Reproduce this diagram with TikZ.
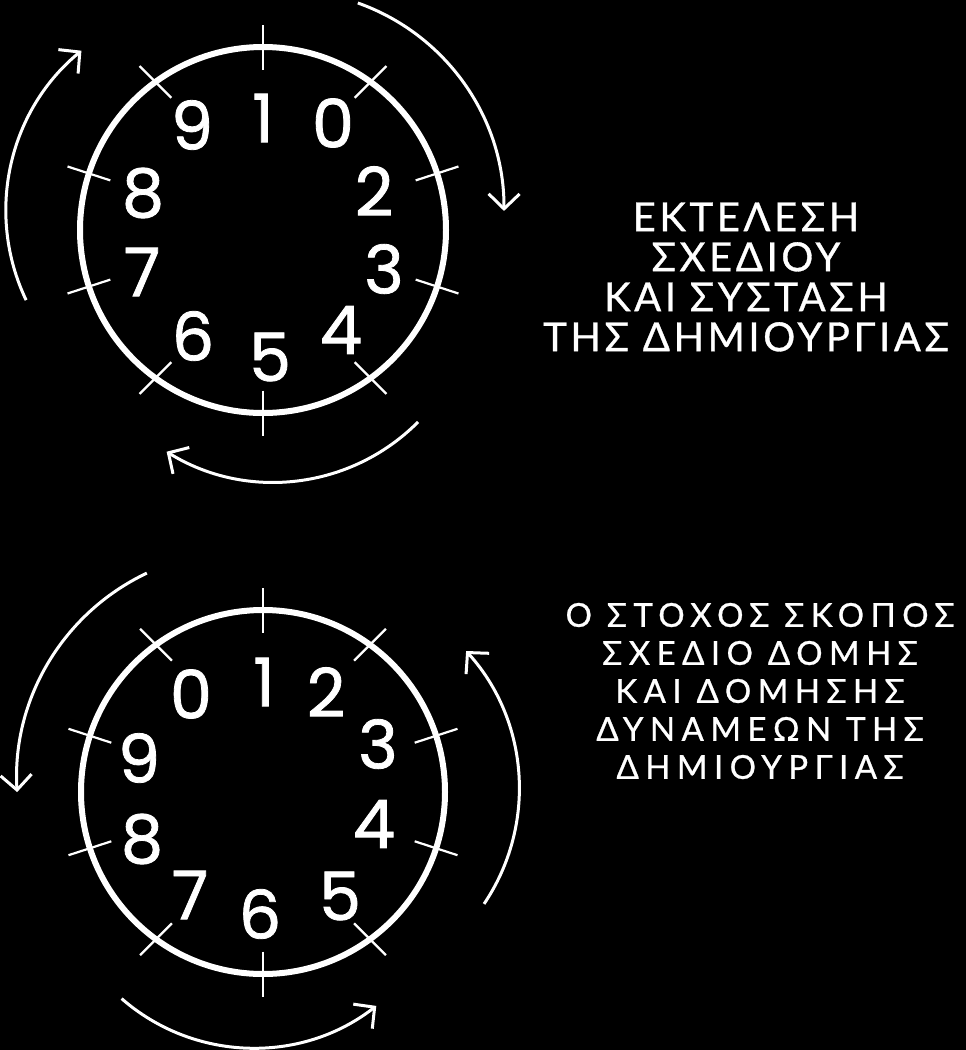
\documentclass[tikz,border=0pt]{standalone}
\usepackage{fontspec}
\usetikzlibrary{arrows.meta,calc}
\newfontfamily\digitfont[FakeBold=1.2]{Poppins}
\newfontfamily\greekA[LetterSpace=9,FakeBold=0.8]{Lato}
\newfontfamily\greekB[LetterSpace=19.5,FakeBold=0.8]{Lato}
\tikzset{
  dial/.style={draw=white, line width=6pt},
  tickmark/.style={draw=white, line width=2.2pt},
  arr/.style={draw=white, line width=3pt, -{Straight Barb[length=15pt,width=31pt]}},
  dig/.style={text=white, inner sep=0pt, font=\digitfont\fontsize{67}{67}\selectfont},
  blockA/.style={text=white, align=center, inner sep=0pt, font=\greekA\fontsize{40}{40}\selectfont},
  blockB/.style={text=white, align=center, inner sep=0pt, font=\greekB\fontsize{33}{38}\selectfont},
}
\begin{document}
\begin{tikzpicture}[x=1pt,y=-1pt]
\fill[black] (0,0) rectangle (966,1050);
\useasboundingbox (0,0) rectangle (966,1050);

% centres of the two dials
\coordinate (ct) at (263,230);
\coordinate (cb) at (263,792);

% dials
\draw[dial] (ct) circle[radius=183];
\draw[dial] (cb) circle[radius=182];

% ticks
\foreach \c/\r in {ct/183, cb/182}{
  \foreach \a/\o in {-90/-90, -54/-45, -18/-18, 18/18, 54/45, 90/90, 126/135, 162/162, 198/198, 234/225}{
    \draw[tickmark] ($(\c)+(\a:\r)+(\o:-22.5)$) -- ($(\c)+(\a:\r)+(\o:22.5)$);
  }
}

% digits, upper dial
\node[dig] (u1) at (263,118) {1};
\node[dig] (u0) at (333,123) {0};
\node[dig] (u2) at (374,191) {2};
\node[dig] (u3) at (384,269) {3};
\node[dig] (u4) at (341,330) {4};
\node[dig] (u5) at (270,357) {5};
\node[dig] (u6) at (193,336) {6};
\node[dig] (u7) at (142,272) {7};
\node[dig] (u8) at (143,193) {8};
\node[dig] (u9) at (192,125) {9};

% digits, lower dial
\node[dig] (l0) at (191,694) {0};
\node[dig] (l1) at (264,682) {1};
\node[dig] (l2) at (326,692) {2};
\node[dig] (l3) at (378,744) {3};
\node[dig] (l4) at (374,824) {4};
\node[dig] (l5) at (340,896) {5};
\node[dig] (l6) at (260,914) {6};
\node[dig] (l7) at (190,895) {7};
\node[dig] (l8) at (142,839) {8};
\node[dig] (l9) at (139,758) {9};

% arrow centres
\coordinate (a1) at (213.4,210.8);
\coordinate (a2) at (284.6,209.8);
\coordinate (a3) at (273.6,278.5);
\coordinate (a4) at (244,778.6);
\coordinate (a5) at (313.5,788.9);
\coordinate (a6) at (253.4,847.5);

% arrows, upper dial
\draw[arr] ($(a1)+(154.5:207.5)$) arc[start angle=154.5, end angle=230.5, radius=207.5];
\draw[arr] ($(a2)+(-70.5:219.4)$) arc[start angle=-70.5, end angle=0.3, radius=219.4];
\draw[arr] ($(a3)+(44.8:203.6)$) arc[start angle=44.8, end angle=121.7, radius=203.6];

% arrows, lower dial
\draw[arr] ($(a4)+(244.7:227.3)$) arc[start angle=244.7, end angle=176.6, radius=227.3];
\draw[arr] ($(a5)+(34:205.7)$) arc[start angle=34, end angle=-42.1, radius=205.7];
\draw[arr] ($(a6)+(131.1:200.5)$) arc[start angle=131.1, end angle=52.2, radius=200.5];

% texts
\node[blockA] (ta) at (746,277) {ΕΚΤΕΛΕΣΗ\\ΣΧΕΔΙΟΥ\\ΚΑΙ ΣΥΣΤΑΣΗ\\ΤΗΣ ΔΗΜΙΟΥΡΓΙΑΣ};
\node[blockB] (tb) at (760,691) {Ο ΣΤΟΧΟΣ ΣΚΟΠΟΣ\\ΣΧΕΔΙΟ ΔΟΜΗΣ\\ΚΑΙ ΔΟΜΗΣΗΣ\\ΔΥΝΑΜΕΩΝ ΤΗΣ\\ΔΗΜΙΟΥΡΓΙΑΣ};
\end{tikzpicture}
\end{document}
